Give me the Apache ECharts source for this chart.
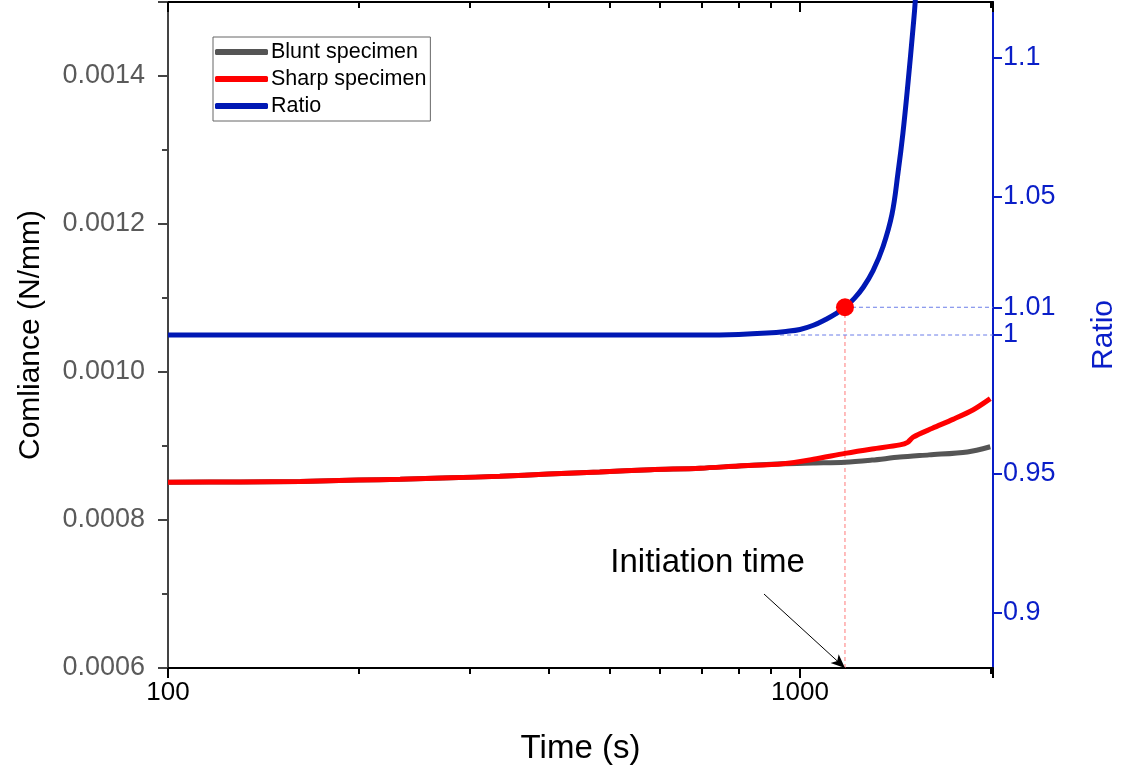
<!DOCTYPE html>
<html>
<head>
<meta charset="utf-8">
<script src="https://cdn.jsdelivr.net/npm/echarts@6/dist/echarts.min.js"></script>
<style>
html,body{margin:0;padding:0;background:#fff;}
#chart{width:1128px;height:776px;}
</style>
</head>
<body>
<div id="chart"></div>
<script>
// ---- data ----
const bluntTime  = [100, 130, 162, 200, 233, 280, 335, 400, 482, 580, 695, 800, 940, 1050, 1178, 1300, 1439, 1600, 1840, 2000];
const bluntComp  = [0.000851, 0.0008515, 0.000852, 0.000854, 0.000855, 0.000857, 0.000859, 0.000862, 0.000865, 0.000868, 0.000870, 0.000873, 0.000876, 0.000877, 0.000878, 0.000881, 0.000885, 0.000888, 0.000892, 0.000899];
const sharpTime  = [100, 130, 162, 200, 233, 280, 335, 400, 482, 580, 695, 800, 940, 1050, 1178, 1300, 1439, 1480, 1510, 1620, 1746, 1880, 2000];
const sharpComp  = [0.000851, 0.0008515, 0.000852, 0.000854, 0.000855, 0.000857, 0.000859, 0.000862, 0.000865, 0.000868, 0.000870, 0.000873, 0.000876, 0.000882, 0.000890, 0.000896, 0.0009015, 0.000905, 0.000912, 0.000924, 0.000936, 0.000949, 0.000964];
const ratioTime  = [100, 300, 500, 695, 800, 887, 950, 1000, 1050, 1100, 1140, 1178, 1220, 1260, 1305, 1353, 1398, 1429, 1455, 1482, 1510, 1521, 1535];
const ratioValue = [1.0, 1.0, 1.0, 1.0, 1.0002, 1.0007, 1.0013, 1.002, 1.0035, 1.0057, 1.0077, 1.01, 1.0133, 1.0173, 1.0232, 1.0318, 1.0435, 1.0584, 1.0728, 1.0908, 1.111, 1.1196, 1.135];
const initiationTime = 1178;
const initiationRatio = 1.01;
const ratioTickValues = [0.9, 0.95, 1, 1.01, 1.05, 1.1];
const seriesNames = ['Blunt specimen', 'Sharp specimen', 'Ratio'];

const zip = (a, b) => a.map((v, i) => [v, b[i]]);

const FONT = '"Liberation Sans", Arial, sans-serif';
const BLUE = '#0a1ec8';
const chart = echarts.init(document.getElementById('chart'));

const xCommon = {
  type: 'log', logBase: 10, min: 100, max: 2020,
  splitLine: { show: false }
};

const option = {
  animation: false,
  textStyle: { fontFamily: FONT },
  grid: { left: 168, right: 135, top: 2, bottom: 108, containLabel: false, outerBoundsMode: 'none' },
  legend: {
    data: seriesNames,
    orient: 'vertical',
    left: 213, top: 37,
    padding: [4, 4, 4, 2],
    itemGap: 5,
    itemWidth: 53, itemHeight: 6,
    icon: 'roundRect',
    borderColor: '#666', borderWidth: 1,
    textStyle: { fontSize: 21.5, color: '#000', fontFamily: FONT, padding: [0, 0, 0, -2] }
  },
  xAxis: [
    Object.assign({}, xCommon, {
      position: 'bottom',
      name: 'Time (s)', nameLocation: 'middle', nameGap: 64,
      nameTextStyle: { fontSize: 33, color: '#000', fontFamily: FONT },
      axisLine: { onZero: false, lineStyle: { color: '#000', width: 2 } },
      axisTick: { show: true, inside: false, length: 10, lineStyle: { color: '#000', width: 2 } },
      minorTick: { show: true, splitNumber: 9, length: 6, lineStyle: { color: '#000', width: 2 } },
      axisLabel: { fontSize: 26, color: '#000', margin: 12, showMaxLabel: false, formatter: v => String(Math.round(v)), fontFamily: FONT }
    }),
    Object.assign({}, xCommon, {
      position: 'top',
      axisLine: { onZero: false, lineStyle: { color: '#000', width: 2 } },
      axisTick: { show: true, inside: true, length: 10, lineStyle: { color: '#000', width: 2 } },
      minorTick: { show: true, splitNumber: 9, length: 6, lineStyle: { color: '#000', width: 2 } },
      axisLabel: { show: false }
    })
  ],
  yAxis: [
    {
      type: 'value', position: 'left',
      min: 0.0006, max: 0.0015, interval: 0.0002,
      name: 'Comliance (N/mm)', nameLocation: 'middle', nameGap: 122, nameRotate: 90,
      nameTextStyle: { fontSize: 30, color: '#000', fontFamily: FONT },
      splitLine: { show: false },
      axisLine: { show: true, onZero: false, lineStyle: { color: '#444', width: 2 } },
      axisTick: { show: true, inside: false, length: 10, lineStyle: { color: '#444', width: 2 } },
      minorTick: { show: true, splitNumber: 2, length: 6, lineStyle: { color: '#444', width: 2 } },
      axisLabel: { fontSize: 27, color: '#5a5a5a', margin: 23, showMaxLabel: false, formatter: v => v.toFixed(4), fontFamily: FONT }
    },
    {
      type: 'value', position: 'right',
      min: 0.88, max: 1.12,
      name: 'Ratio', nameLocation: 'middle', nameGap: 96, nameRotate: 90,
      nameTextStyle: { fontSize: 30, color: BLUE, fontFamily: FONT },
      splitLine: { show: false },
      axisLine: { show: true, onZero: false, lineStyle: { color: BLUE, width: 2 } },
      axisTick: { show: true, inside: false, length: 9, customValues: ratioTickValues, lineStyle: { color: BLUE, width: 2 } },
      axisLabel: { fontSize: 27, color: BLUE, margin: 10, customValues: ratioTickValues, formatter: v => String(parseFloat(v.toFixed(2))), fontFamily: FONT }
    }
  ],
  series: [
    {
      name: 'Blunt specimen', type: 'line', xAxisIndex: 0, yAxisIndex: 0,
      data: zip(bluntTime, bluntComp),
      showSymbol: false, smooth: 0.3,
      color: '#555555', lineStyle: { width: 5, color: '#555555' }, z: 3,
      markPoint: {
        symbol: 'circle', symbolSize: 0, silent: true,
        label: { show: true, position: 'inside', formatter: 'Initiation time', fontSize: 33, color: '#000', fontFamily: FONT },
        data: [{ coord: [714, 0.000742] }]
      },
      markLine: {
        silent: true, symbol: ['none', 'arrow'], symbolSize: [9, 14],
        label: { show: false },
        lineStyle: { color: '#000', width: 1, type: 'solid' },
        data: [[{ coord: [877, 0.0007] }, { coord: [initiationTime, 0.0006] }]]
      }
    },
    {
      name: 'Sharp specimen', type: 'line', xAxisIndex: 0, yAxisIndex: 0,
      data: zip(sharpTime, sharpComp),
      showSymbol: false, smooth: 0.3,
      color: '#ff0000', lineStyle: { width: 5, color: '#ff0000' }, z: 4
    },
    {
      name: 'initiation vertical', type: 'line', xAxisIndex: 0, yAxisIndex: 1,
      data: [[initiationTime, 0.88], [initiationTime, initiationRatio]],
      showSymbol: false, silent: true,
      lineStyle: { width: 1, color: '#ff7a7a', type: [4, 3] }, z: 2
    },
    {
      name: 'ratio 1.01 guide', type: 'line', xAxisIndex: 0, yAxisIndex: 1,
      data: [[initiationTime, initiationRatio], [2020, initiationRatio]],
      showSymbol: false, silent: true,
      lineStyle: { width: 1, color: '#6a7ce8', type: [4, 3] }, z: 2
    },
    {
      name: 'ratio 1 guide', type: 'line', xAxisIndex: 0, yAxisIndex: 1,
      data: [[930, 1], [2020, 1]],
      showSymbol: false, silent: true,
      lineStyle: { width: 1, color: '#6a7ce8', type: [4, 3] }, z: 2
    },
    {
      name: 'Ratio', type: 'line', xAxisIndex: 0, yAxisIndex: 1,
      data: zip(ratioTime, ratioValue),
      showSymbol: false, smooth: 0.4,
      color: '#0018b4', lineStyle: { width: 5, color: '#0018b4' }, z: 5
    },
    {
      name: 'initiation point', type: 'scatter', xAxisIndex: 0, yAxisIndex: 1,
      data: [[initiationTime, initiationRatio]],
      symbolSize: 18, itemStyle: { color: '#ff0000', opacity: 1 }, z: 6, silent: true
    }
  ]
};
chart.setOption(option);
</script>
</body>
</html>
